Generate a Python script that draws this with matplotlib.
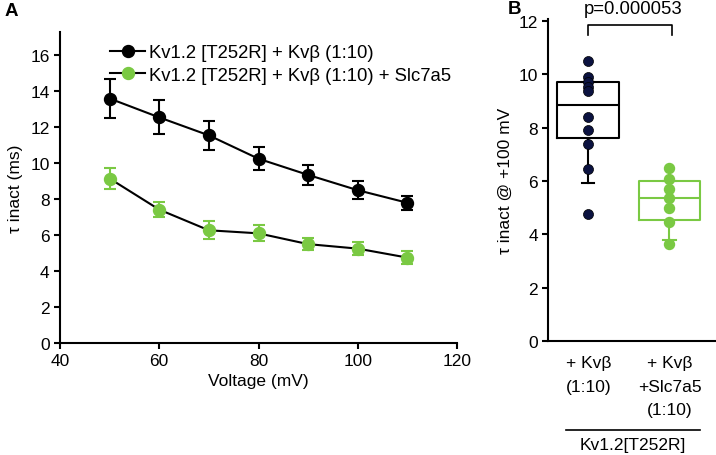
import matplotlib
matplotlib.use('Agg')
import matplotlib.pyplot as plt
from matplotlib.lines import Line2D

plt.rcParams['font.family'] = ['Liberation Sans', 'DejaVu Sans']
plt.rcParams['font.size'] = 12.5

# Panel A: tau inact vs voltage (mean +/- error)
voltage = [50, 60, 70, 80, 90, 100, 110]
tau_kvb = [13.6, 12.55, 11.55, 10.25, 9.35, 8.5, 7.8]
err_kvb = [1.1, 0.95, 0.8, 0.65, 0.57, 0.5, 0.4]
tau_slc = [9.15, 7.42, 6.27, 6.1, 5.5, 5.25, 4.75]
err_slc = [0.6, 0.4, 0.5, 0.45, 0.35, 0.35, 0.35]
label_kvb = 'Kv1.2 [T252R] + Kv\u03b2 (1:10)'
label_slc = 'Kv1.2 [T252R] + Kv\u03b2 (1:10) + Slc7a5'

# Panel B: tau inact at +100 mV, individual cells and box stats
pts_kvb = [10.51, 9.89, 9.70, 9.54, 9.36, 8.39, 7.91, 7.39, 6.45, 4.77]
pts_slc = [6.49, 6.08, 5.70, 5.36, 4.98, 4.46, 3.64]
box_kvb = dict(q1=7.6, med=8.84, q3=9.7, whislo=5.93, whishi=9.7)
box_slc = dict(q1=4.54, med=5.36, q3=5.99, whislo=3.8, whishi=5.99)
group_labels = ['+ Kv\u03b2\n(1:10)', '+ Kv\u03b2\n+Slc7a5\n(1:10)']
p_text = 'p=0.000053'

black = '#000000'
navy = '#0b1240'
green = '#7ac943'

fig = plt.figure(figsize=(7.16, 4.56), dpi=100)

# ---- panel A ----
ax1 = fig.add_axes([60 / 716, 1 - 344 / 456, 397 / 716, 311 / 456])
ax1.errorbar(voltage, tau_kvb, yerr=err_kvb, color=black, marker='o', ms=8.6,
             lw=1.5, elinewidth=1.5, capsize=4.3, capthick=1.5, zorder=3)
ax1.errorbar(voltage, tau_slc, yerr=err_slc, color=black, marker='o', ms=8.6,
             mfc=green, mec=green, ecolor=green, lw=1.5, elinewidth=1.5,
             capsize=4.3, capthick=1.5, zorder=3)
ax1.set_xlim(40, 120)
ax1.set_ylim(0, 17.3)
ax1.set_xticks([40, 60, 80, 100, 120])
ax1.set_yticks(range(0, 17, 2))
ax1.set_xlabel('Voltage (mV)', labelpad=3)
ax1.set_ylabel('\u03c4 inact (ms)', labelpad=5)
for s in ['top', 'right']:
    ax1.spines[s].set_visible(False)
for s in ['left', 'bottom']:
    ax1.spines[s].set_linewidth(1.5)
ax1.tick_params(width=1.5, length=4)

# legend without the error bar glyphs
handles = [Line2D([], [], color=black, lw=1.5, marker='o', ms=8.6),
           Line2D([], [], color=black, lw=1.5, marker='o', ms=8.6, mfc=green, mec=green)]
ax1.legend(handles, [label_kvb, label_slc], loc='upper left',
           bbox_to_anchor=(43 / 397, 1 - 5 / 311), frameon=False,
           handlelength=1.9, handletextpad=0.2, labelspacing=0.3,
           borderaxespad=0, fontsize=13.3)
fig.text(5 / 716, 1 - 11 / 456, 'A', fontsize=13.5, fontweight='bold', va='center')

# ---- panel B ----
ax2 = fig.add_axes([548.3 / 716, 1 - 342.3 / 456, (716 - 548.3) / 716, 322.3 / 456])
ax2.bxp([dict(box_kvb, fliers=[])], positions=[1], widths=0.76,
        showfliers=False, capwidths=[0.15],
        boxprops=dict(color=black, lw=1.5), medianprops=dict(color=black, lw=1.5),
        whiskerprops=dict(color=black, lw=1.5), capprops=dict(color=black, lw=1.5))
ax2.bxp([dict(box_slc, fliers=[])], positions=[2], widths=0.76,
        showfliers=False, capwidths=[0.15],
        boxprops=dict(color=green, lw=1.5), medianprops=dict(color=green, lw=1.5),
        whiskerprops=dict(color=green, lw=1.5), capprops=dict(color=green, lw=1.5))
ax2.plot([1] * len(pts_kvb), pts_kvb, 'o', ms=7.2, color=navy, mec='#000000', mew=0.5, zorder=4)
ax2.plot([2] * len(pts_slc), pts_slc, 'o', ms=7.2, color=green, zorder=4)
ax2.set_xlim(0.507, 2.573)
ax2.set_ylim(0, 12.07)
ax2.set_yticks(range(0, 13, 2))
ax2.set_xticks([1, 2])
ax2.set_xticklabels(group_labels, linespacing=1.7, va='top')
ax2.tick_params(axis='x', length=0, pad=10)
ax2.tick_params(axis='y', width=1.5, length=4)
ax2.set_ylabel('\u03c4 inact @ +100 mV', labelpad=4)
for s in ['top', 'right']:
    ax2.spines[s].set_visible(False)
for s in ['left', 'bottom']:
    ax2.spines[s].set_linewidth(1.5)

# significance bracket
ax2.plot([1, 1, 2.03, 2.03], [11.47, 11.85, 11.85, 11.47], color=black, lw=1.2, clip_on=False)
ax2.text(1.55, 12.45, p_text, ha='center', va='center', fontsize=13.3)

# group line under category labels
fig.add_artist(Line2D([566 / 716, 700 / 716], [1 - 431 / 456] * 2, color=black, lw=1.2))
fig.text(633 / 716, 1 - 446 / 456, 'Kv1.2[T252R]', ha='center', va='center', fontsize=12.5)
fig.text(508 / 716, 1 - 9 / 456, 'B', fontsize=13.5, fontweight='bold', va='center')

fig.savefig('out.png', dpi=100)
